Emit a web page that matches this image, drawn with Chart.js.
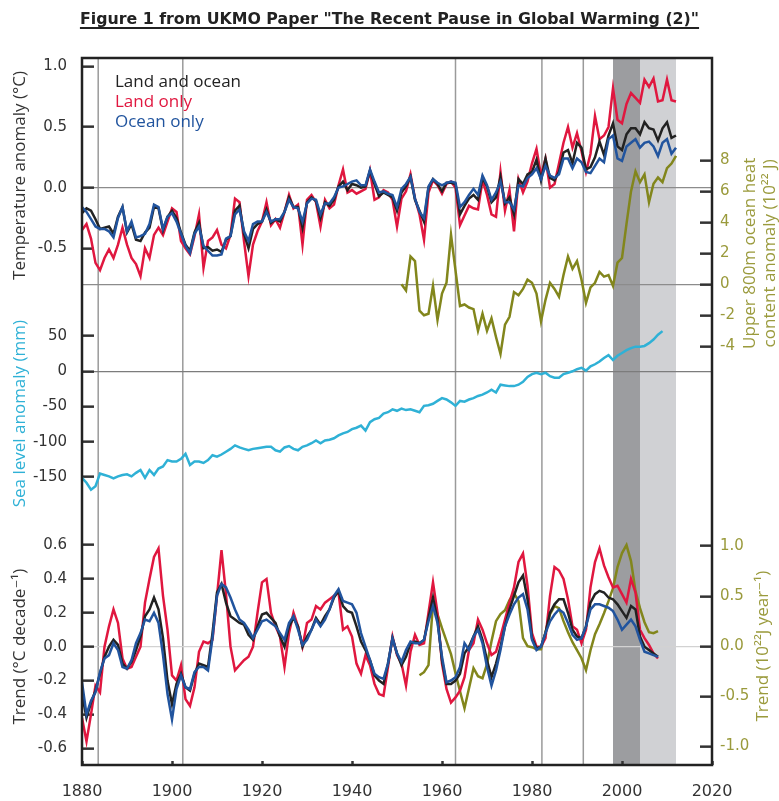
<!DOCTYPE html>
<html>
<head>
<meta charset="utf-8">
<script src="https://cdn.jsdelivr.net/npm/chart.js@4.4.0/dist/chart.umd.min.js"></script>
<style>
  html, body { margin: 0; padding: 0; background: #fff; }
  #wrap { position: relative; width: 779px; height: 801px; }
  #title {
    position: absolute; left: 0; top: 9px; width: 779px; text-align: center;
    font: bold 15.8px "DejaVu Sans", Arial, sans-serif; color: #222;
    text-decoration: underline; text-underline-offset: 3px; text-decoration-thickness: 2px;
  }
</style>
</head>
<body>
<div id="wrap">
  <div id="title">Figure 1 from UKMO Paper "The Recent Pause in Global Warming (2)"</div>
  <canvas id="chart" width="779" height="801"></canvas>
</div>
<script>
// annual temperature anomalies (degC), 1880-2012
const tempStart = 1880;
const landOcean = [
  -0.21, -0.17, -0.19, -0.26, -0.34, -0.33, -0.32, -0.38, -0.24, -0.16,
  -0.37, -0.30, -0.43, -0.44, -0.37, -0.33, -0.16, -0.17, -0.35, -0.24,
  -0.19, -0.25, -0.37, -0.47, -0.52, -0.37, -0.29, -0.50, -0.49, -0.52,
  -0.51, -0.53, -0.43, -0.40, -0.19, -0.15, -0.38, -0.50, -0.34, -0.30,
  -0.28, -0.18, -0.29, -0.26, -0.28, -0.20, -0.08, -0.16, -0.16, -0.33,
  -0.12, -0.08, -0.11, -0.25, -0.12, -0.15, -0.10, 0.01, 0.05, -0.02,
  0.03, 0.02, 0.00, 0.01, 0.14, 0.03, -0.07, -0.04, -0.06, -0.08,
  -0.19, -0.04, 0.01, 0.09, -0.10, -0.19, -0.28, 0.00, 0.07, 0.03,
  -0.03, 0.04, 0.04, 0.03, -0.22, -0.15, -0.09, -0.06, -0.10, 0.08,
  0.01, -0.12, -0.08, 0.09, -0.13, -0.08, -0.22, 0.07, 0.03, 0.11,
  0.13, 0.23, 0.06, 0.24, 0.08, 0.06, 0.13, 0.29, 0.31, 0.20,
  0.37, 0.33, 0.15, 0.17, 0.25, 0.38, 0.27, 0.43, 0.53, 0.34,
  0.31, 0.44, 0.49, 0.49, 0.44, 0.54, 0.49, 0.48, 0.39, 0.49,
  0.54, 0.41, 0.43
];
const landOnly = [
  -0.35, -0.30, -0.42, -0.62, -0.68, -0.58, -0.51, -0.58, -0.47, -0.33,
  -0.47, -0.58, -0.63, -0.73, -0.50, -0.58, -0.39, -0.33, -0.39, -0.28,
  -0.17, -0.20, -0.44, -0.50, -0.55, -0.40, -0.22, -0.66, -0.44, -0.41,
  -0.35, -0.47, -0.50, -0.39, -0.09, -0.12, -0.44, -0.73, -0.47, -0.36,
  -0.28, -0.12, -0.31, -0.26, -0.33, -0.20, -0.06, -0.17, -0.14, -0.47,
  -0.10, -0.06, -0.12, -0.32, -0.10, -0.17, -0.14, 0.02, 0.15, -0.04,
  -0.02, -0.05, -0.03, -0.01, 0.14, -0.10, -0.08, -0.02, -0.04, -0.10,
  -0.32, -0.09, -0.03, 0.11, -0.09, -0.22, -0.43, -0.04, 0.06, 0.02,
  -0.05, 0.03, 0.05, 0.00, -0.31, -0.23, -0.15, -0.17, -0.18, 0.06,
  -0.06, -0.22, -0.24, 0.13, -0.19, -0.02, -0.36, 0.07, -0.04, 0.05,
  0.20, 0.32, 0.10, 0.24, 0.00, 0.03, 0.20, 0.37, 0.50, 0.33,
  0.45, 0.30, 0.13, 0.28, 0.59, 0.40, 0.43, 0.50, 0.82, 0.56,
  0.53, 0.69, 0.78, 0.74, 0.70, 0.89, 0.83, 0.90, 0.71, 0.72,
  0.89, 0.72, 0.71
];
const oceanOnly = [
  -0.16, -0.20, -0.26, -0.32, -0.34, -0.34, -0.36, -0.41, -0.25, -0.16,
  -0.36, -0.28, -0.41, -0.40, -0.38, -0.30, -0.14, -0.16, -0.34, -0.24,
  -0.21, -0.28, -0.38, -0.48, -0.54, -0.38, -0.32, -0.48, -0.52, -0.56,
  -0.56, -0.55, -0.42, -0.40, -0.22, -0.18, -0.36, -0.44, -0.30, -0.28,
  -0.28, -0.20, -0.28, -0.26, -0.26, -0.20, -0.10, -0.16, -0.17, -0.28,
  -0.13, -0.09, -0.10, -0.22, -0.13, -0.13, -0.08, 0.00, 0.01, 0.03,
  0.05, 0.06, 0.02, 0.02, 0.15, 0.05, -0.04, -0.03, -0.05, -0.06,
  -0.16, -0.01, 0.03, 0.09, -0.09, -0.20, -0.25, 0.01, 0.07, 0.04,
  0.02, 0.04, 0.05, 0.04, -0.16, -0.12, -0.06, -0.01, -0.06, 0.10,
  0.02, -0.10, -0.04, 0.05, -0.12, -0.12, -0.18, 0.02, 0.01, 0.08,
  0.11, 0.16, 0.07, 0.18, 0.10, 0.08, 0.11, 0.24, 0.24, 0.16,
  0.24, 0.21, 0.13, 0.12, 0.18, 0.24, 0.21, 0.40, 0.43, 0.24,
  0.22, 0.34, 0.37, 0.40, 0.33, 0.37, 0.38, 0.34, 0.26, 0.37,
  0.40, 0.28, 0.33
];

// upper 800m ocean heat content anomaly (10^22 J), 1951-2012
const heatStart = 1951;
const heatContent = [
  0.0, -0.4, 1.8, 1.5, -1.7, -2.0, -1.9, -0.1, -2.3,
  -0.6, 0.1, 3.2, 0.9, -1.4, -1.3, -1.5, -1.6, -3.0, -1.9,
  -3.0, -2.2, -3.4, -4.5, -2.6, -2.1, -0.5, -0.7, -0.3, 0.3,
  0.1, -0.6, -2.4, -1.0, 0.1, -0.3, -0.8, 0.6, 1.8, 1.0,
  1.5, 0.3, -1.2, -0.2, 0.1, 0.8, 0.5, 0.6, -0.1, 1.4,
  1.7, 3.9, 6.0, 7.3, 6.6, 7.1, 5.3, 6.5, 6.9, 6.6,
  7.5, 7.8, 8.3
];

// sea level anomaly (mm), 1880-2009
const seaStart = 1880;
const seaLevel = [
  -151, -158, -168, -163, -145, -147, -149, -152, -149, -147,
  -146, -149, -144, -140, -151, -140, -147, -138, -135, -126,
  -128, -128, -124, -117, -133, -128, -128, -130, -126, -119,
  -121, -118, -114, -110, -105, -108, -110, -112, -110, -109,
  -108, -107, -107, -112, -114, -108, -106, -110, -112, -107,
  -105, -102, -98, -102, -98, -97, -95, -91, -88, -86,
  -82, -80, -77, -84, -72, -68, -66, -60, -58, -54,
  -56, -53, -55, -54, -56, -58, -49, -48, -46, -42,
  -38, -40, -44, -49, -42, -43, -40, -38, -35, -33,
  -30, -26, -30, -19, -20, -21, -21, -19, -15, -8,
  -4, -2, -4, -2, -7, -9, -9, -4, -2, 0,
  3, 5, 1, 7, 10, 14, 19, 23, 16, 22,
  26, 30, 33, 35, 35, 36, 40, 45, 52, 57
];

// trends (degC per decade), 1880-2008
const trendStart = 1880;
const trendLandOcean = [
  -0.28, -0.42, -0.33, -0.26, -0.16, -0.06, 0.00, 0.04, 0.01, -0.10,
  -0.13, -0.09, -0.02, 0.06, 0.18, 0.22, 0.29, 0.22, 0.05, -0.20,
  -0.34, -0.22, -0.16, -0.24, -0.26, -0.16, -0.10, -0.11, -0.12, 0.08,
  0.32, 0.37, 0.26, 0.18, 0.16, 0.14, 0.13, 0.07, 0.04, 0.12,
  0.19, 0.20, 0.17, 0.14, 0.06, 0.00, 0.12, 0.17, 0.12, 0.00,
  0.06, 0.10, 0.17, 0.13, 0.18, 0.22, 0.29, 0.33, 0.24, 0.21,
  0.20, 0.12, 0.03, -0.02, -0.08, -0.17, -0.20, -0.22, -0.10, 0.05,
  -0.04, -0.11, -0.06, 0.02, 0.03, 0.02, 0.04, 0.17, 0.29, 0.16,
  -0.08, -0.22, -0.22, -0.20, -0.16, -0.04, 0.00, 0.06, 0.12, 0.04,
  -0.08, -0.18, -0.10, 0.00, 0.12, 0.22, 0.30, 0.38, 0.42, 0.28,
  0.05, -0.01, 0.00, 0.08, 0.20, 0.25, 0.28, 0.28, 0.20, 0.10,
  0.06, 0.05, 0.12, 0.26, 0.31, 0.33, 0.32, 0.29, 0.28, 0.25,
  0.21, 0.17, 0.24, 0.22, 0.06, 0.00, -0.02, -0.04, -0.06
];
const trendLand = [
  -0.42, -0.56, -0.40, -0.23, -0.27, 0.00, 0.12, 0.22, 0.14, -0.07,
  -0.13, -0.12, -0.06, 0.00, 0.26, 0.40, 0.53, 0.58, 0.30, 0.10,
  -0.17, -0.20, -0.11, -0.31, -0.35, -0.24, -0.03, 0.03, 0.02, 0.04,
  0.30, 0.57, 0.31, 0.00, -0.14, -0.11, -0.08, -0.06, 0.00, 0.20,
  0.38, 0.40, 0.20, 0.12, 0.06, -0.12, 0.08, 0.20, 0.12, 0.00,
  0.14, 0.16, 0.24, 0.22, 0.26, 0.28, 0.30, 0.32, 0.10, 0.12,
  0.06, -0.10, -0.16, -0.05, -0.11, -0.22, -0.28, -0.29, -0.12, 0.06,
  -0.05, -0.10, -0.23, -0.03, 0.07, 0.01, 0.02, 0.20, 0.38, 0.20,
  -0.10, -0.25, -0.33, -0.30, -0.26, -0.18, -0.02, 0.02, 0.16, 0.10,
  0.02, -0.05, -0.03, 0.06, 0.16, 0.26, 0.35, 0.50, 0.55, 0.36,
  0.08, 0.00, 0.00, 0.05, 0.30, 0.47, 0.45, 0.40, 0.28, 0.12,
  0.10, 0.02, 0.10, 0.35, 0.50, 0.58, 0.48, 0.41, 0.35, 0.36,
  0.31, 0.26, 0.40, 0.32, 0.10, 0.05, 0.01, -0.04, -0.07
];
const trendOcean = [
  -0.21, -0.40, -0.32, -0.27, -0.15, -0.07, -0.05, 0.02, -0.02, -0.12,
  -0.13, -0.08, 0.02, 0.08, 0.16, 0.15, 0.20, 0.14, -0.05, -0.28,
  -0.43, -0.25, -0.17, -0.24, -0.25, -0.15, -0.12, -0.12, -0.14, 0.05,
  0.30, 0.37, 0.35, 0.29, 0.22, 0.16, 0.14, 0.10, 0.05, 0.10,
  0.15, 0.16, 0.14, 0.12, 0.08, 0.04, 0.14, 0.18, 0.10, 0.01,
  0.04, 0.10, 0.16, 0.12, 0.16, 0.22, 0.30, 0.34, 0.27, 0.26,
  0.25, 0.20, 0.08, 0.00, -0.08, -0.16, -0.18, -0.19, -0.10, 0.05,
  -0.04, -0.09, -0.02, 0.03, 0.02, 0.02, 0.04, 0.15, 0.24, 0.14,
  -0.06, -0.21, -0.20, -0.18, -0.12, 0.02, -0.02, 0.06, 0.10, 0.02,
  -0.12, -0.23, -0.14, -0.02, 0.12, 0.19, 0.25, 0.29, 0.31, 0.22,
  0.04, -0.02, 0.00, 0.08, 0.15, 0.19, 0.22, 0.20, 0.14, 0.07,
  0.04, 0.05, 0.12, 0.22, 0.25, 0.25, 0.24, 0.23, 0.21, 0.16,
  0.10, 0.13, 0.16, 0.12, 0.04, -0.03, -0.04, -0.05, -0.06
];

// ocean heat content trend (10^22 J per year), 1955-2008
const heatTrendStart = 1955;
const heatTrend = [
  -0.29, -0.26, -0.19, 0.43, 0.32,
  0.18, 0.05, -0.08, -0.27, -0.45, -0.62, -0.42, -0.22, -0.30, -0.32,
  -0.18, 0.05, 0.25, 0.32, 0.36, 0.46, 0.53, 0.45, 0.08, 0.00,
  -0.01, -0.03, -0.03, 0.14, 0.32, 0.40, 0.38, 0.25, 0.14, 0.04,
  -0.04, -0.12, -0.24, -0.04, 0.12, 0.22, 0.33, 0.45, 0.58, 0.79,
  0.93, 1.01, 0.85, 0.55, 0.38, 0.24, 0.14, 0.13, 0.15
];

// volcanic eruptions and the shaded recent periods
const eruptions = [1883.6, 1902.4, 1963.0, 1982.2, 1991.4];
const pauseDark = [1998, 2004];
const pauseLight = [2004, 2012];

// tick labels
const yearTicks = [1880, 1900, 1920, 1940, 1960, 1980, 2000, 2020];
const tempTicks = [-0.5, 0.0, 0.5, 1.0];
const heatTicks = [-4, -2, 0, 2, 4, 6, 8];
const seaTicks = [-150, -100, -50, 0, 50];
const trendTicks = [-0.6, -0.4, -0.2, 0.0, 0.2, 0.4, 0.6];
const heatTrendTicks = [-1.0, -0.5, 0.0, 0.5, 1.0];

const BLACK = '#222222', RED = '#e0173f', BLUE = '#21549e', CYAN = '#2fb1d6', OLIVE = '#82861c';
const OLIVE_TEXT = '#9a9a3c';
const FONT = '"Open Sans", "DejaVu Sans", sans-serif';
const TICK_FONT = '"DejaVu Sans", sans-serif';

function series(start, values) {
  return values.map((v, i) => ({ x: start + i, y: v }));
}

function line(label, color, axis, start, values) {
  return {
    label: label, data: series(start, values), yAxisID: axis,
    borderColor: color, backgroundColor: color, borderWidth: 2.5,
    pointRadius: 0, tension: 0, fill: false
  };
}

// the axes take no room of their own; their labels sit in the layout padding
function noClip(s) {
  s._computeLabelArea = () => undefined;
}

function yAxis(position, min, max, ticks, digits, color, zeroColor) {
  return {
    type: 'linear', position: position, min: min, max: max,
    afterFit: s => { s.width = 0; noClip(s); },
    afterBuildTicks: s => { s.ticks = ticks.map(v => ({ value: v })); },
    border: { display: false },
    grid: {
      drawOnChartArea: true,
      color: c => (zeroColor && c.tick && c.tick.value === 0) ? zeroColor : 'rgba(0,0,0,0)',
      lineWidth: 1.3,
      drawTicks: true, tickLength: -12, tickColor: '#333', tickWidth: 2.5
    },
    ticks: {
      autoSkip: false, padding: position === 'left' ? 27 : 20, color: color,
      font: { family: TICK_FONT, size: 15 },
      callback: v => Number(v).toFixed(digits)
    }
  };
}

const frame = {
  id: 'frame',
  beforeDraw(chart) {
    const { ctx, chartArea: a, scales } = chart;
    const x = scales.x;
    ctx.save();
    ctx.fillStyle = '#fff';
    ctx.fillRect(0, 0, chart.width, chart.height);
    ctx.fillStyle = '#9c9da0';
    ctx.fillRect(x.getPixelForValue(pauseDark[0]), a.top, x.getPixelForValue(pauseDark[1]) - x.getPixelForValue(pauseDark[0]), a.bottom - a.top);
    ctx.fillStyle = '#d0d1d4';
    ctx.fillRect(x.getPixelForValue(pauseLight[0]), a.top, x.getPixelForValue(pauseLight[1]) - x.getPixelForValue(pauseLight[0]), a.bottom - a.top);
    ctx.strokeStyle = '#9a9a9a';
    ctx.lineWidth = 1.5;
    eruptions.forEach(yr => {
      const px = x.getPixelForValue(yr);
      ctx.beginPath();
      ctx.moveTo(px, a.top);
      ctx.lineTo(px, a.bottom);
      ctx.stroke();
    });
    ctx.restore();
  },
  afterDraw(chart) {
    const { ctx, chartArea: a, scales } = chart;
    ctx.save();
    ctx.strokeStyle = '#222';
    ctx.lineWidth = 2.5;
    ctx.strokeRect(a.left, a.top, a.right - a.left, a.bottom - a.top);

    // legend for the three temperature series
    ctx.font = '17px ' + FONT;
    ctx.textBaseline = 'middle';
    ctx.textAlign = 'left';
    chart.data.datasets.slice(0, 3).forEach((ds, i) => {
      ctx.fillStyle = ds.borderColor;
      ctx.fillText(ds.label, a.left + 33, a.top + 24 + i * 20);
    });

    // axis titles, rotated to read bottom-to-top
    const vText = (lines, xs, yc, color) => {
      lines.forEach((t, i) => {
        ctx.save();
        ctx.translate(xs[i], yc);
        ctx.rotate(-Math.PI / 2);
        ctx.fillStyle = color;
        ctx.textAlign = 'center';
        ctx.fillText(t, 0, 0);
        ctx.restore();
      });
    };
    ctx.font = '17px ' + FONT;
    vText(['Temperature anomaly (\u00b0C)'], [20], scales.yTemp.getPixelForValue(0.1), '#333');
    vText(['Sea level anomaly (mm)'], [20], scales.ySea.getPixelForValue(-60), CYAN);
    vText(['Trend (\u00b0C decade\u207b\u00b9)'], [20], scales.yTrend.getPixelForValue(0), '#333');
    vText(['Upper 800m ocean heat', 'content anomaly (10\u00b2\u00b2 J)'], [750, 770], scales.yHeat.getPixelForValue(2), OLIVE_TEXT);
    vText(['Trend (10\u00b2\u00b2J year\u207b\u00b9)'], [763], scales.yHeatTrend.getPixelForValue(0), OLIVE_TEXT);
    ctx.restore();
  }
};

new Chart(document.getElementById('chart'), {
  type: 'line',
  data: {
    datasets: [
      line('Land and ocean', BLACK, 'yTemp', tempStart, landOcean),
      line('Land only', RED, 'yTemp', tempStart, landOnly),
      line('Ocean only', BLUE, 'yTemp', tempStart, oceanOnly),
      line('Ocean heat content', OLIVE, 'yHeat', heatStart, heatContent),
      line('Sea level', CYAN, 'ySea', seaStart, seaLevel),
      line('Trend land and ocean', BLACK, 'yTrend', trendStart, trendLandOcean),
      line('Trend land', RED, 'yTrend', trendStart, trendLand),
      line('Trend ocean', BLUE, 'yTrend', trendStart, trendOcean),
      line('Trend ocean heat content', OLIVE, 'yHeatTrend', heatTrendStart, heatTrend)
    ].map((d, i) => Object.assign(d, { order: [2, 3, 1, 4, 5, 7, 8, 6, 9][i] }))
  },
  options: {
    responsive: false,
    animation: false,
    devicePixelRatio: 1,
    layout: { padding: { left: 82, right: 67, top: 58, bottom: 26 } },
    plugins: { legend: { display: false }, tooltip: { enabled: false }, title: { display: false } },
    scales: {
      x: {
        type: 'linear', position: 'bottom', min: 1880, max: 2020,
        afterFit: s => { s.height = 0; noClip(s); },
        afterBuildTicks: s => { s.ticks = yearTicks.map(v => ({ value: v })); },
        border: { display: false },
        grid: { drawOnChartArea: false, drawTicks: true, tickLength: -4, tickColor: '#333', tickWidth: 2.5 },
        ticks: {
          autoSkip: false, maxRotation: 0, padding: 21, color: '#333',
          font: { family: TICK_FONT, size: 16 },
          callback: v => String(v)
        }
      },
      yTemp: yAxis('left', -4.760, 1.069, tempTicks, 1, '#333', '#8c8c8c'),
      ySea: yAxis('left', -558.4, 444.4, seaTicks, 0, '#333', '#7c7c7c'),
      yTrend: yAxis('left', -0.699, 3.477, trendTicks, 1, '#333', '#d2d2d2'),
      yHeat: yAxis('right', -31.05, 14.62, heatTicks, 0, OLIVE_TEXT, '#8c8c8c'),
      yHeatTrend: yAxis('right', -1.187, 5.877, heatTrendTicks, 1, OLIVE_TEXT, null)
    }
  },
  plugins: [frame]
});
</script>
</body>
</html>
